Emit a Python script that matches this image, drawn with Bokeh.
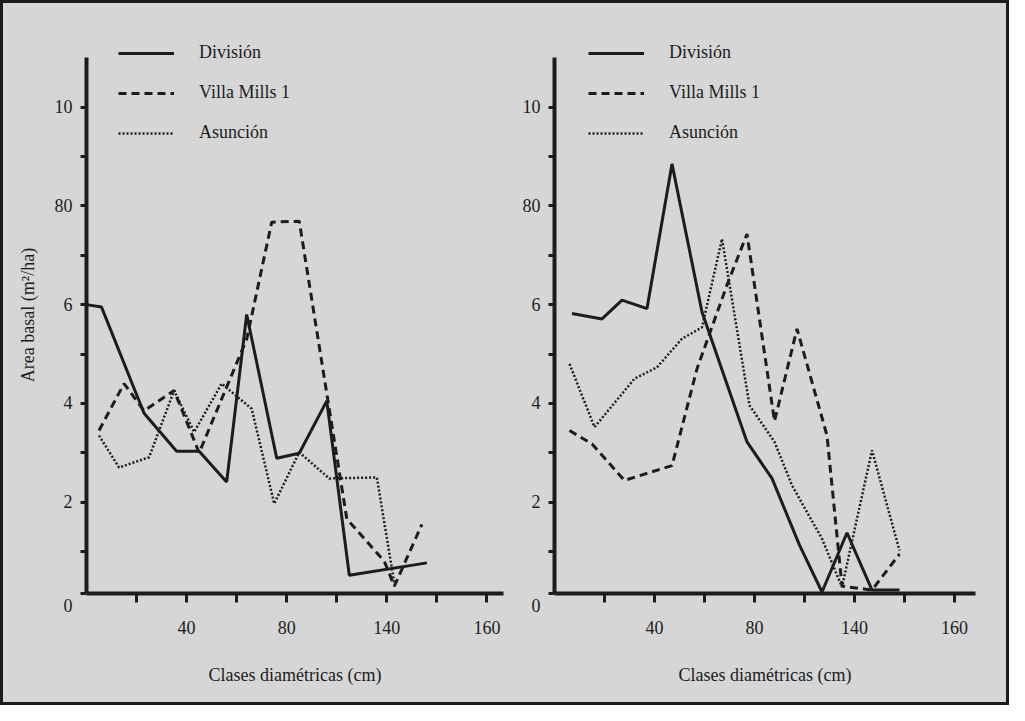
from bokeh.plotting import figure
from bokeh.layouts import row
from bokeh.models import FixedTicker, Legend, LegendItem, Title
from bokeh.embed import file_html
from bokeh.resources import INLINE

# ---------------- data ----------------
# Left panel
div_l_x = [0, 6, 23, 36, 45, 56, 64, 76, 85, 96, 105, 136]
div_l_y = [6.0, 5.95, 3.8, 3.03, 3.03, 2.41, 5.8, 2.89, 2.99, 4.05, 0.52, 0.77]

vm_l_x = [5, 15, 23, 35, 45, 64, 74, 85, 96, 104, 119, 123, 134]
vm_l_y = [3.45, 4.4, 3.85, 4.26, 3.0, 5.3, 7.67, 7.69, 4.2, 1.66, 0.8, 0.3, 1.55]

asu_l_x = [5, 13, 25, 35, 43, 54, 66, 75, 85, 97, 116, 123]
asu_l_y = [3.35, 2.7, 2.91, 4.26, 3.42, 4.4, 3.89, 1.97, 3.01, 2.48, 2.5, 0.35]

# Right panel
div_r_x = [7, 19, 27, 37, 47, 59, 77, 87, 98, 107, 117, 127, 138]
div_r_y = [5.82, 5.71, 6.09, 5.92, 8.85, 5.85, 3.22, 2.48, 1.13, 0.18, 1.38, 0.22, 0.22]

vm_r_x = [6, 15, 28, 47, 57, 69, 77, 88, 97, 109, 115, 127, 138]
vm_r_y = [3.45, 3.18, 2.44, 2.74, 4.7, 6.4, 7.43, 3.64, 5.51, 3.35, 0.3, 0.22, 0.95]

asu_r_x = [6, 16, 32, 41, 51, 59, 67, 78, 88, 95, 107, 115, 127, 138]
asu_r_y = [4.8, 3.52, 4.5, 4.73, 5.31, 5.54, 7.33, 3.96, 3.22, 2.34, 1.26, 0.28, 3.05, 1.02]

series_names = ["División", "Villa Mills 1", "Asunción"]

x_tick_values = [20, 40, 60, 80, 100, 120, 140, 160]
x_tick_labels = ["", "40", "", "80", "", "140", "", "160"]
y_axis_base = 0.15
y_tick_values = [y_axis_base, 1, 2, 3, 4, 5, 6, 7, 8, 9, 10]
y_tick_labels = ["\n0", "", "2", "", "4", "", "6", "", "80", "", "10"]

x_title = "Clases diamétricas (cm)"
y_title = "Area basal (m²/ha)"

# ---------------- style ----------------
FONT = "Liberation Serif"
INK = "#1c1c1c"
BG = "#d6d6d6"
FS = "18px"


def make_panel(width, bl, br, x_end, data, show_ytitle, legend_x):
    p = figure(width=width, height=699, x_range=(0, x_end), y_range=(y_axis_base, 11.43),
               output_backend="svg", toolbar_location=None,
               min_border_left=bl, min_border_right=br,
               min_border_top=33, min_border_bottom=109)
    p.background_fill_color = BG
    p.border_fill_color = BG
    p.outline_line_color = None
    p.grid.visible = False

    xa = p.xaxis[0]
    xa.ticker = FixedTicker(ticks=x_tick_values)
    xa.major_label_overrides = dict(zip(x_tick_values, x_tick_labels))
    xa.axis_label = x_title
    ya = p.yaxis[0]
    ya.ticker = FixedTicker(ticks=y_tick_values)
    ya.major_label_overrides = dict(zip(y_tick_values, y_tick_labels))
    ya.bounds = (y_axis_base, 11.0)
    for ax in (xa, ya):
        ax.axis_line_width = 4
        ax.axis_line_color = INK
        ax.major_tick_line_width = 3
        ax.major_tick_line_color = INK
        ax.major_tick_in = 0
        ax.minor_tick_line_color = None
        ax.major_label_text_font = FONT
        ax.major_label_text_font_size = FS
        ax.major_label_text_color = INK
        ax.axis_label_text_font = FONT
        ax.axis_label_text_font_size = FS
        ax.axis_label_text_font_style = "normal"
        ax.axis_label_text_color = INK
    xa.major_tick_out = 9
    xa.major_label_standoff = 18
    xa.axis_label_standoff = 28
    ya.major_tick_out = 6
    ya.major_label_standoff = 8

    if show_ytitle:
        p.add_layout(Title(text=y_title, align="center", vertical_align="top",
                           offset=-22, standoff=24,
                           text_font=FONT, text_font_size=FS, text_font_style="normal",
                           text_color=INK), "left")

    (dx, dy), (vx, vy), (ax_, ay) = data
    r1 = p.line(dx, dy, line_color=INK, line_width=3)
    r2 = p.line(vx, vy, line_color=INK, line_width=3, line_dash="8 5")
    r3 = p.line(ax_, ay, line_color=INK, line_width=2.5, line_dash="2 2")

    legend = Legend(items=[LegendItem(label=series_names[0], renderers=[r1]),
                           LegendItem(label=series_names[1], renderers=[r2]),
                           LegendItem(label=series_names[2], renderers=[r3])],
                    location=(legend_x, 450), glyph_width=56, glyph_height=18,
                    label_height=18, label_standoff=25, spacing=19,
                    padding=0, margin=0, border_line_color=None,
                    background_fill_alpha=0,
                    label_text_font=FONT, label_text_font_size=FS,
                    label_text_color=INK)
    p.add_layout(legend)
    return p


p1 = make_panel(504, 83, 4, 166.6,
                ((div_l_x, div_l_y), (vm_l_x, vm_l_y), (asu_l_x, asu_l_y)),
                True, 32)
p2 = make_panel(499, 47, 31, 168.4,
                ((div_r_x, div_r_y), (vm_r_x, vm_r_y), (asu_r_x, asu_r_y)),
                False, 34)

layout = row(p1, p2, styles={"border": "3px solid #1c1c1c", "background-color": BG})

open("out.html", "w").write(file_html(layout, INLINE))
